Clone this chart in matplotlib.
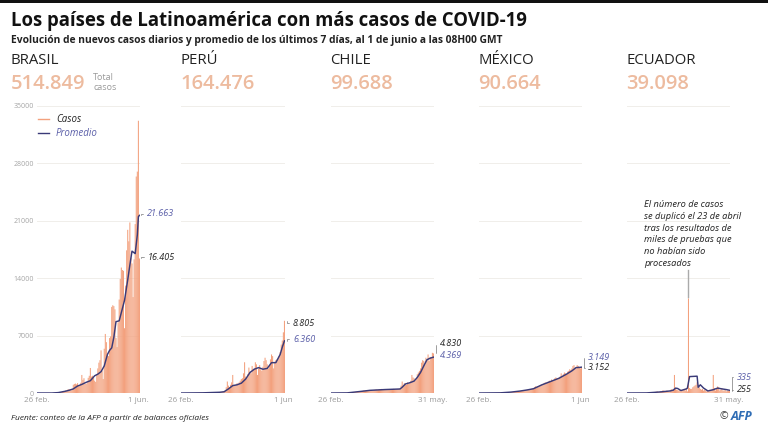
import matplotlib
matplotlib.use('Agg')
import matplotlib.pyplot as plt

plt.rcParams['font.family'] = ['Open Sans', 'DejaVu Sans']

# new cases per day
BRASIL = [0, 0, 0, 0, 1, 0, 0, 0, 0, 5, 5, 5, 0, 5, 5, 15, 20, 30,
          40, 60, 55, 70, 60, 100, 180, 250, 230, 300, 250, 430, 480, 350, 320, 450, 1000,
          1100, 1150, 1050, 1200, 850, 900, 1250, 2200, 1600, 1800, 1150, 1100, 1300, 1850, 2100,
          3050, 2000, 2100, 1900, 1500, 1350, 2300, 3000, 3700, 4000, 5200, 2700, 1700, 5400, 7200,
          6200, 4800, 4500, 6700, 6900, 10500, 10700, 10600, 10200, 6700, 5600, 8600, 11400, 13900, 15300,
          15000, 14900, 7900, 13100, 17400, 19900, 18500, 20800, 16500, 15800, 11700, 16300, 20600, 26400, 27000,
          33200, 16405]
PERU = [0, 0, 0, 0, 0, 0, 0, 0, 0, 1,
        2, 5, 2, 5, 10, 15, 15, 30, 30, 40,
        35, 30, 30, 50, 55, 60, 60, 50, 80, 100,
        90, 100, 100, 70, 120, 100, 130, 140, 150, 200,
        250, 300, 700, 1400, 900, 700, 1000, 1300, 2200, 1000,
        900, 1000, 1200, 1100, 1300, 1500, 1700, 1800, 2400, 3750,
        2000, 1800, 2300, 3100, 2600, 2400, 3300, 2900, 3000, 3750,
        3500, 2200, 3000, 3400, 2900, 2700, 3200, 3900, 4300, 4000,
        3500, 3000, 3300, 4100, 4700, 4500, 3000, 3800, 4000, 4100,
        4200, 4500, 5000, 5900, 6400, 7400, 8805]
CHILE = [0, 0, 0, 0, 0, 0, 0, 0, 1, 2,
         3, 5, 10, 15, 20, 25, 30, 50, 70, 60,
         80, 100, 110, 130, 140, 150, 170, 200, 220, 250,
         300, 280, 300, 320, 330, 350, 340, 300, 330, 350,
         370, 400, 420, 380, 400, 450, 480, 500, 450, 430,
         400, 430, 450, 470, 480, 420, 450, 480, 500, 470,
         430, 460, 480, 500, 550, 900, 1400, 1000, 1200, 1100,
         1000, 1300, 1100, 1200, 1500, 2200, 1900, 1800, 1500, 1700,
         2300, 2500, 2700, 3000, 3700, 4000, 3900, 3400, 4300, 4000,
         4700, 3900, 4400, 4300, 4900, 4830]
MEXICO = [0, 0, 0, 1, 2, 0, 0, 1, 0, 0,
          2, 1, 3, 4, 5, 5, 12, 12, 12, 25,
          29, 40, 47, 30, 40, 50, 70, 75, 100, 100,
          120, 130, 150, 160, 170, 180, 190, 200, 220, 250,
          260, 280, 300, 320, 350, 400, 430, 450, 480, 500,
          550, 600, 700, 820, 760, 800, 850, 920, 1000, 1050,
          1100, 1200, 1300, 1250, 1350, 1400, 1500, 1450, 1650, 1550,
          1600, 1800, 1900, 1800, 1700, 1850, 2000, 2400, 2100, 2300,
          2500, 2400, 2300, 2600, 2700, 2900, 2800, 3000, 3300, 3400,
          3100, 3000, 3400, 3300, 3100, 3000, 3152]
ECUADOR = [0, 0, 0, 0, 0, 0, 5, 2, 1, 0,
           2, 3, 2, 2, 5, 5, 5, 15, 20, 10,
           30, 50, 60, 80, 50, 80, 100, 150, 200, 100,
           100, 200, 150, 300, 300, 200, 150, 300, 250, 100,
           300, 450, 400, 500, 2200, 600, 400, 350, 300, 350,
           300, 400, 350, 500, 300, 600, 200, 11536, 600, 500,
           500, 700, 800, 900, 1000, 1300, 1000, 700, 500, 400,
           500, 300, 400, 300, 200, 300, 200, 400, 300, 500,
           2200, 600, 300, 500, 800, 700, 300, 400, 600, 300,
           300, 400, 200, 300, 250, 255]

# 7 day average, read at the bends of each line
BRASIL_AVG_DAYS = [0, 14, 20, 26, 30, 34, 38, 42, 46, 50, 54, 57, 60, 63, 66, 68, 70, 72, 74, 77, 80, 82, 85, 87, 89, 92, 94, 95, 96]
BRASIL_AVG = [0, 0, 50, 200, 330, 500, 850, 1050, 1300, 1500, 2100, 2300, 2600, 3300, 4700, 5200, 5500, 6800, 8700, 8800, 10300, 11300, 13800, 15600, 17300, 17000, 19300, 21500, 21663]
PERU_AVG_DAYS = [0, 20, 36, 40, 44, 48, 52, 56, 60, 64, 68, 72, 76, 80, 84, 88, 92, 94, 96]
PERU_AVG = [0, 20, 90, 150, 500, 900, 1000, 1200, 1700, 2500, 2900, 3100, 2900, 3000, 3700, 3700, 4700, 5600, 6360]
CHILE_AVG_DAYS = [0, 15, 21, 28, 36, 50, 64, 66, 69, 73, 77, 80, 83, 86, 89, 92, 95]
CHILE_AVG = [0, 15, 100, 200, 325, 420, 490, 700, 1100, 1250, 1450, 1900, 2500, 3300, 4060, 4250, 4369]
MEXICO_AVG_DAYS = [0, 20, 30, 38, 45, 51, 59, 64, 69, 75, 82, 87, 91, 94, 96]
MEXICO_AVG = [0, 20, 110, 230, 370, 520, 1000, 1250, 1500, 1800, 2300, 2700, 3100, 3120, 3149]
ECUADOR_AVG_DAYS = [0, 18, 30, 40, 43, 45, 47, 50, 55, 56, 58, 65, 66, 68, 71, 75, 80, 84, 88, 92, 95]
ECUADOR_AVG = [0, 10, 120, 250, 350, 600, 550, 300, 500, 600, 2000, 2050, 700, 1000, 600, 250, 400, 600, 500, 420, 335]

NAMES = ['BRASIL', 'PERÚ', 'CHILE', 'MÉXICO', 'ECUADOR']
TOTALS = ['514.849', '164.476', '99.688', '90.664', '39.098']
END_TICKS = ['1 jun.', '1 jun', '31 may.', '1 jun', '31 may.']
Y_TICKS = [0, 7000, 14000, 21000, 28000, 35000]

SALMON = '#F3A17E'
NAVY = '#3A3A78'
BLUE = '#5A5EA8'
W, H = 768, 430

fig = plt.figure(figsize=(W / 100, H / 100), dpi=100)

# overlay in pixel coords for the titles and notes
over = fig.add_axes([0, 0, 1, 1], zorder=5)
over.set_xlim(0, W)
over.set_ylim(H, 0)
over.axis('off')


def panel(left, right, cases, avg_days, avg, name, total, end_tick, first):
    ax = fig.add_axes([left / W, 1 - 393 / H, (right - left) / W, 287 / H])
    last = len(cases) - 1
    ax.bar(range(len(cases)), cases, width=0.97, color=SALMON, linewidth=0, zorder=2, snap=False)
    ax.plot(avg_days, avg, color=NAVY, lw=1.05, zorder=3, solid_joinstyle='round')
    ax.set_xlim(0, last + 0.5)
    ax.set_ylim(0, 35000)
    ax.set_yticks(Y_TICKS)
    ax.yaxis.grid(True, color='#F0EEEA', lw=0.7, zorder=0)
    ax.set_axisbelow(True)
    ax.set_xticks([0, last - 1])
    ax.set_xticklabels(['26 feb.', end_tick], fontsize=5.8, color='#9A9A9A')
    ax.tick_params(length=0, pad=3)
    if first:
        ax.set_yticklabels([str(t) for t in Y_TICKS], fontsize=5, color='#A5A5A5')
        ax.tick_params(axis='y', pad=2)
    else:
        ax.tick_params(axis='y', labelleft=False)
    for s in ax.spines.values():
        s.set_visible(False)
    ax.patch.set_alpha(0)
    over.text(left - 26 if first else left - 1, 61, name, fontsize=10.7, color='#222222', va='center')
    over.text(left - 26 if first else left - 1, 84, total, fontsize=14.5, fontweight=600, color='#EDBB9F', va='center')
    return ax


def end_label(ax, x_data, y_data, text, px, py, color):
    ax.annotate(text, xy=(x_data, y_data), xycoords='data', xytext=(px, py), textcoords=over.transData,
                fontsize=6.5, style='italic', color=color, va='center', ha='left', annotation_clip=False,
                arrowprops=dict(arrowstyle='-', color='#777777', lw=0.5, shrinkA=1, shrinkB=0,
                                connectionstyle='angle,angleA=0,angleB=90,rad=0'))


ax1 = panel(37, 140, BRASIL, BRASIL_AVG_DAYS, BRASIL_AVG, NAMES[0], TOTALS[0], END_TICKS[0], True)
ax2 = panel(181, 285, PERU, PERU_AVG_DAYS, PERU_AVG, NAMES[1], TOTALS[1], END_TICKS[1], False)
ax3 = panel(331, 434, CHILE, CHILE_AVG_DAYS, CHILE_AVG, NAMES[2], TOTALS[2], END_TICKS[2], False)
ax4 = panel(479, 582, MEXICO, MEXICO_AVG_DAYS, MEXICO_AVG, NAMES[3], TOTALS[3], END_TICKS[3], False)
ax5 = panel(627, 730, ECUADOR, ECUADOR_AVG_DAYS, ECUADOR_AVG, NAMES[4], TOTALS[4], END_TICKS[4], False)

end_label(ax1, 97.5, BRASIL_AVG[-1], '21.663', 147, 214, BLUE)
end_label(ax1, 97.5, BRASIL[-1], '16.405', 148, 257, '#222222')
end_label(ax2, 98.5, PERU[-1], '8.805', 293, 323, '#222222')
end_label(ax2, 98.5, PERU_AVG[-1], '6.360', 293, 339, BLUE)
end_label(ax3, 97.5, CHILE[-1], '4.830', 440, 344, '#222222')
end_label(ax3, 97.5, CHILE_AVG[-1], '4.369', 440, 356, BLUE)
end_label(ax4, 98.5, MEXICO_AVG[-1], '3.149', 588, 357, BLUE)
end_label(ax4, 98.5, MEXICO[-1], '3.152', 588, 368, '#222222')
end_label(ax5, 97.5, ECUADOR_AVG[-1], '335', 737, 377, BLUE)
end_label(ax5, 97.5, ECUADOR[-1], '255', 737, 390, '#222222')

# header
over.fill_between([0, W], 0, 3, color='#111111', lw=0)
over.text(11, 21, 'Los países de Latinoamérica con más casos de COVID-19', fontsize=13.35,
          fontweight='bold', color='#111111', va='center')
over.text(11, 41, 'Evolución de nuevos casos diarios y promedio de los últimos 7 días, al 1 de junio a las 08H00 GMT',
          fontsize=7.43, fontweight='bold', color='#222222', va='center')
over.text(93, 78, 'Total', fontsize=6.5, color='#9A9A9A', va='center')
over.text(93, 88, 'casos', fontsize=6.5, color='#9A9A9A', va='center')

# legend
over.plot([38, 49], [119, 119], color=SALMON, lw=1)
over.plot([38, 49], [133, 133], color=NAVY, lw=1)
over.text(56, 119, 'Casos', fontsize=7, style='italic', color='#222222', va='center')
over.text(56, 133, 'Promedio', fontsize=7, style='italic', color=BLUE, va='center')

# Ecuador note
note = 'El número de casos\nse duplicó el 23 de abril\ntras los resultados de\nmiles de pruebas que\nno habían sido\nprocesados'
over.text(644, 234, note, fontsize=6.7, style='italic', color='#222222', va='center', linespacing=1.42)
over.plot([688, 688], [270, 297], color='#AAAAAA', lw=1)

# footer
over.text(11, 418, 'Fuente: conteo de la AFP a partir de balances oficiales', fontsize=6.0,
          style='italic', color='#222222', va='center')
over.text(719, 417, '©', fontsize=7.5, color='#333333', va='center')
over.text(731, 417, 'AFP', fontsize=9, fontweight='bold', style='italic', color='#2F6DB5', va='center')

fig.savefig('out.png', dpi=100)
